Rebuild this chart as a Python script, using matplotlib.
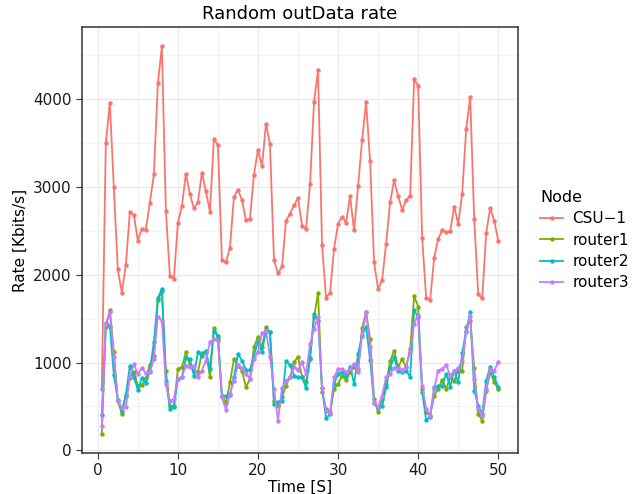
import matplotlib
matplotlib.use("Agg")
import matplotlib.pyplot as plt
from matplotlib.ticker import MultipleLocator
import numpy as np

time = np.arange(1, 101) * 0.5

csu1 = [700, 3500, 3960, 3000, 2060, 1795, 2110, 2710, 2680, 2390,
        2525, 2515, 2820, 3145, 4180, 4600, 2730, 1990, 1955, 2590,
        2780, 3150, 2920, 2755, 2825, 3160, 2950, 2720, 3550, 3475,
        2165, 2140, 2310, 2885, 2970, 2850, 2620, 2640, 3140, 3425,
        3235, 3720, 3485, 2165, 2015, 2095, 2615, 2695, 2790, 2875,
        2560, 2520, 3030, 3970, 4330, 2335, 1740, 1795, 2295, 2580,
        2660, 2595, 2895, 2505, 3010, 3530, 3965, 3295, 2140, 1835,
        1940, 2350, 2825, 3075, 2895, 2740, 2850, 2900, 4225, 4155,
        2420, 1740, 1715, 2190, 2410, 2505, 2485, 2495, 2775, 2580,
        2925, 3660, 4025, 2630, 1780, 1730, 2480, 2760, 2615, 2390]

router1 = [185, 1400, 1600, 1125, 567, 415, 635, 825, 890, 738,
           742, 825, 977, 1080, 1707, 1820, 909, 510, 502, 928,
           947, 1118, 966, 909, 890, 1110, 1118, 833, 1395, 1270,
           624, 540, 776, 1042, 966, 909, 719, 814, 1175, 1296,
           1175, 1403, 1346, 567, 510, 605, 738, 833, 1004, 1068,
           833, 776, 1042, 1517, 1794, 662, 472, 434, 700, 757,
           852, 806, 890, 947, 928, 1395, 1574, 1270, 586, 434,
           586, 757, 1015, 1137, 947, 1040, 947, 1156, 1756, 1638,
           700, 434, 396, 624, 700, 806, 700, 833, 795, 909,
           909, 1403, 1479, 939, 415, 339, 681, 890, 776, 700]

router2 = [403, 1452, 1420, 860, 578, 453, 624, 966, 833, 692,
           821, 768, 909, 1232, 1737, 1840, 795, 472, 491, 814,
           833, 1053, 1042, 852, 1118, 1072, 1137, 928, 1365, 1308,
           616, 616, 635, 833, 1099, 1023, 916, 920, 1080, 1232,
           1118, 1372, 1346, 529, 548, 567, 1015, 977, 852, 833,
           833, 711, 1053, 1555, 1479, 711, 365, 415, 757, 871,
           890, 852, 954, 757, 1099, 1308, 1410, 1030, 536, 480,
           500, 719, 939, 1060, 901, 890, 901, 840, 1593, 1524,
           662, 346, 384, 719, 730, 738, 871, 726, 909, 776,
           1106, 1365, 1574, 681, 510, 415, 795, 954, 833, 726]

router3 = [274, 1440, 1574, 1068, 567, 483, 490, 840, 981, 871,
           940, 878, 890, 1042, 1524, 1479, 757, 559, 586, 814,
           840, 966, 947, 966, 833, 909, 1023, 1232, 1270, 1250,
           605, 460, 643, 795, 977, 940, 871, 814, 1042, 1125,
           1334, 1365, 1068, 700, 339, 711, 795, 833, 954, 916,
           1004, 871, 1213, 1384, 1524, 711, 453, 422, 833, 928,
           928, 890, 928, 985, 897, 1315, 1574, 1175, 548, 491,
           624, 833, 871, 935, 935, 916, 954, 1118, 1441, 1547,
           738, 472, 396, 700, 909, 928, 973, 852, 909, 935,
           1023, 1346, 1536, 814, 472, 396, 700, 928, 909, 1004]

nodes = ["CSU\u22121", "router1", "router2", "router3"]
colors = ["#F8766D", "#7CAE00", "#00BFC4", "#C77CFF"]
series = [csu1, router1, router2, router3]

fig = plt.figure(figsize=(6.38, 4.94), dpi=100)
ax = fig.add_axes([0.1285, 0.083, 0.6835, 0.862])

for name, values, color in zip(nodes, series, colors):
    ax.plot(time, values, color=color, linewidth=1.3, marker="o",
            markersize=2.2, label=name)

ax.set_xlim(-1.975, 52.475)
ax.set_ylim(-30, 4820)
ax.xaxis.set_major_locator(MultipleLocator(10))
ax.xaxis.set_minor_locator(MultipleLocator(5))
ax.yaxis.set_major_locator(MultipleLocator(1000))
ax.yaxis.set_minor_locator(MultipleLocator(500))
ax.grid(which="major", color="#EBEBEB", linewidth=1.0)
ax.grid(which="minor", color="#F2F2F2", linewidth=0.8)
ax.set_axisbelow(True)
for spine in ax.spines.values():
    spine.set_color("#333333")
    spine.set_linewidth(1.1)
ax.tick_params(which="major", direction="out", length=4, color="#333333",
               labelsize=11, labelcolor="#1A1A1A")
ax.tick_params(which="minor", length=0)

ax.set_title("Random outData rate", fontsize=13, pad=6)
ax.set_xlabel("Time [S]", fontsize=11, labelpad=1)
ax.set_ylabel("Rate [Kbits/s]", fontsize=11, labelpad=4)

leg = ax.legend(title="Node", loc="center left", bbox_to_anchor=(1.0, 0.5),
                frameon=False, fontsize=11, title_fontsize=11.5,
                handlelength=1.5, handletextpad=0.6, labelspacing=0.42,
                borderaxespad=1.25, borderpad=0.2, alignment="left")

fig.savefig("out.png", dpi=100)
